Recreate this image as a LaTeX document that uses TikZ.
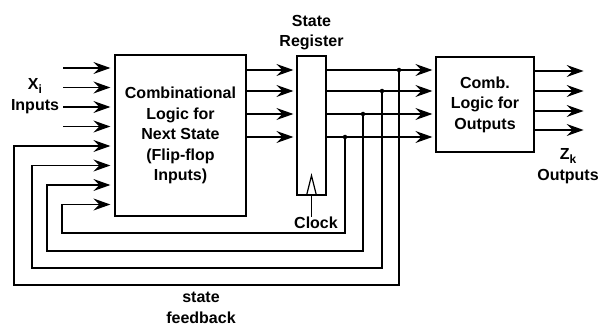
\documentclass[tikz,border=0pt]{standalone}
\usepackage{fontspec}
\setmainfont{Liberation Sans}
\usetikzlibrary{arrows.meta,positioning}

\newcommand{\sublabel}[1]{\raisebox{-0.45ex}{\fontsize{12}{12}\selectfont #1}}

\begin{document}
\begin{tikzpicture}[
	x=1pt, y=-1pt,
	every node/.style={font=\fontsize{16}{20.5}\selectfont\bfseries, inner sep=0pt},
	box/.style={draw, line width=1.2pt, align=center},
	wire/.style={line width=1.2pt},
	arrow/.style={wire, -{Stealth[length=17pt,width=12pt,inset=6pt]}},
	tap/.style={circle, fill, minimum size=4.5pt, inner sep=0pt}
	]
	\useasboundingbox (0,0) rectangle (602,326);
	
	% ---- Boxes ----
	\node[box, minimum width=131pt, minimum height=161pt] (nsl) at (180.5,135.5)
	{Combinational\\Logic for\\Next State\\(Flip-flop\\Inputs)};
	\node[box, minimum width=29pt, minimum height=139pt] (reg) at (311.5,125.5) {};
	\node[box, minimum width=98pt, minimum height=95pt] (ol) at (485,104.5)
	{Comb.\\Logic for\\Outputs};
	
	% ---- Labels ----
	\node[align=center, above=5pt of reg] (reglabel) {State\\Register};
	\node (clock) at (316,223) {Clock};
	\node[align=center] (xin) at (35,96) {X\sublabel{i}\\Inputs};
	\node[align=center] (zout) at (568,166) {Z\sublabel{k}\\Outputs};
	\node[align=center] (fb) at (201,308) {state\\feedback};
	
	% ---- Clock input ----
	\draw[wire] ([xshift=-5pt]reg.south) -- ([yshift=20pt]reg.south) -- ([xshift=5pt]reg.south);
	\draw[wire] (clock.north -| reg.south) -- (reg.south);
	
	% ---- Input arrows ----
	\foreach \y [count=\i] in {68,87.5,107,126.5,146,165.5,185,204.5}
	\coordinate (in\i) at ([xshift=-4pt]nsl.west |- 0,\y);
	\foreach \i in {1,...,4}
	\draw[arrow] ([xshift=4pt]in\i -| xin.east) -- (in\i);
	
	% ---- Next state to register ----
	\foreach \y in {70,91,114,137}
	\draw[arrow] (nsl.east |- 0,\y) -- ([xshift=-3pt]reg.west |- 0,\y);
	
	% ---- Register outputs ----
	\foreach \y/\x [count=\i] in {70/399,91/382,114/363,137/345} {
		\draw[arrow] (reg.east |- 0,\y) -- ([xshift=-3pt]ol.west |- 0,\y);
		\node[tap] (tap\i) at (\x,\y) {};
	}
	
	% ---- State feedback ----
	\foreach \b/\l [count=\i] in {285/14,268/32,251/47,233/62} {
		\pgfmathtruncatemacro{\j}{\i+4}
		\draw[arrow] (tap\i) |- (\l,\b) |- (in\j);
	}
	
	% ---- Outputs ----
	\foreach \y in {71,91,111,130}
	\draw[arrow] (ol.east |- 0,\y) -- ([xshift=49pt]ol.east |- 0,\y);
	
\end{tikzpicture}
\end{document}
